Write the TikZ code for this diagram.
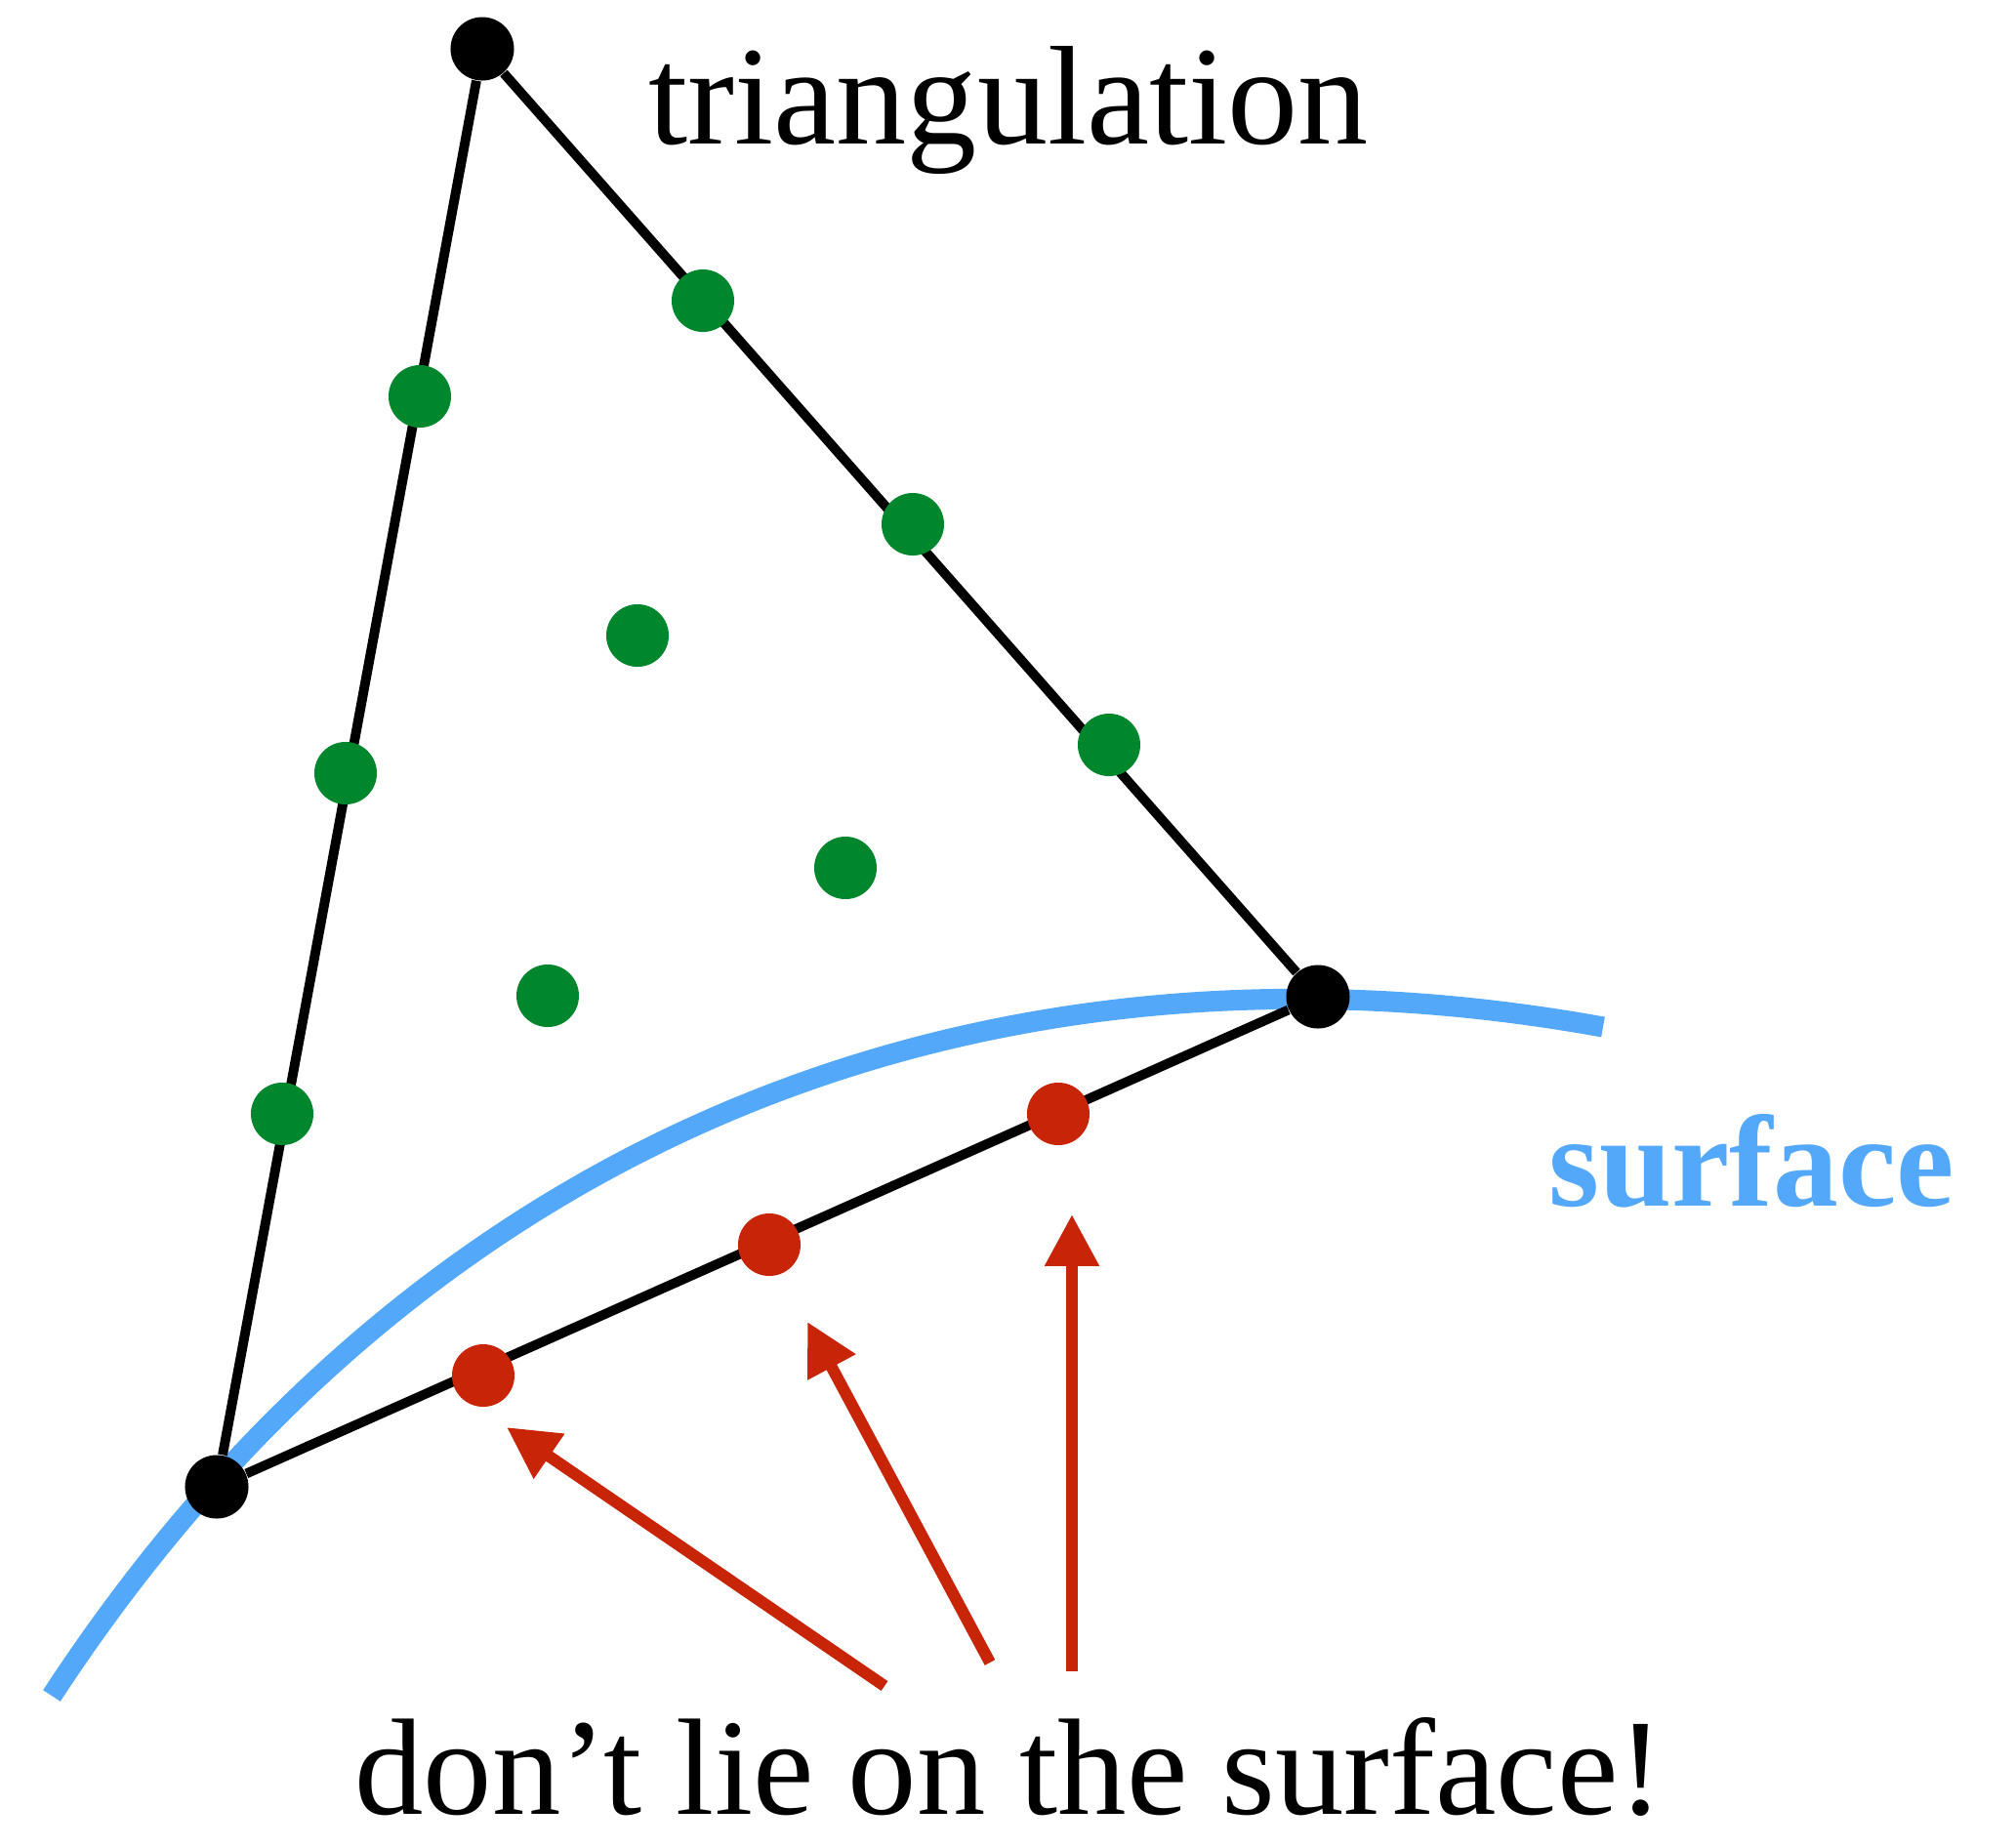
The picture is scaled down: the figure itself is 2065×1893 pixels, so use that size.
\documentclass[tikz,border=0pt]{standalone}
\usepackage{fontspec}
\setmainfont{Liberation Serif}
\usepackage{xcolor}
\usetikzlibrary{arrows.meta}
\usetikzlibrary{backgrounds}

\definecolor{dotgreen}{RGB}{0,135,45}
\definecolor{dotred}{RGB}{200,36,8}
\definecolor{surfblue}{RGB}{84,168,250}

\begin{document}
\begin{tikzpicture}[
		x=0.01cm, y=-0.01cm,
		vx/.style = {circle, fill=black, inner sep=0, minimum size=0.65cm},
		gd/.style = {circle, fill=dotgreen, inner sep=0, minimum size=0.64cm},
		rd/.style = {circle, fill=dotred, inner sep=0, minimum size=0.64cm},
		edge/.style = {line width=2.8pt},
		ar/.style = {-{Triangle[length=15pt, width=15pt]}, draw=dotred, line width=3.4pt},
		srf/.style = {draw=surfblue, line width=6pt},
		lbl/.style = {anchor=base, inner sep=0, font=\fontsize{41}{48}\selectfont}
		]
		\useasboundingbox (0,0) rectangle (2065,1893);

		%Vertices
		\node[vx]	(A)		at	(494, 50)	{};
		\node[vx]	(B)		at	(1350, 1021)	{};
		\node[vx]	(C)		at	(222, 1523)	{};

		%Green points
		\node[gd]	(ac1)	at	(430, 406)	{};
		\node[gd]	(ac2)	at	(354, 792)	{};
		\node[gd]	(ac3)	at	(289, 1141)	{};
		\node[gd]	(ab1)	at	(720, 308)	{};
		\node[gd]	(ab2)	at	(935, 537)	{};
		\node[gd]	(ab3)	at	(1136, 763)	{};
		\node[gd]	(in1)	at	(653, 651)	{};
		\node[gd]	(in2)	at	(866, 889)	{};
		\node[gd]	(in3)	at	(561, 1020)	{};

		%Red points
		\node[rd]	(cb1)	at	(495, 1409)	{};
		\node[rd]	(cb2)	at	(788, 1275)	{};
		\node[rd]	(cb3)	at	(1084, 1141)	{};

		%Labels
		\node[lbl]	(tri)	at	(1033, 147)	{triangulation};
		\node[lbl, font=\fontsize{38}{44}\selectfont\bfseries, text=surfblue]	(surf)	at	(1794, 1235)	{surface};
		\node[lbl, font=\fontsize{40}{46}\selectfont]	(note)	at	(1034, 1858)	{don’t lie on the surface!};

		%Surface and edges
		\coordinate	(s0)	at	(53, 1737);
		\coordinate	(s1)	at	(1642, 1052);
		\begin{scope}[on background layer]
			\draw[srf]	(s0) .. controls (450, 1130) and (1050, 945) .. (s1);
			\draw[edge]	(A) -- (B);
			\draw[edge]	(A) -- (C);
			\draw[edge]	(C) -- (B);
		\end{scope}

		%Arrows
		\coordinate	(t1)	at	(906, 1727);
		\coordinate	(h1)	at	(519, 1462);
		\coordinate	(t2)	at	(1014, 1703);
		\coordinate	(h2)	at	(827, 1354);
		\coordinate	(t3)	at	(1098, 1712);
		\coordinate	(h3)	at	(1098, 1244);
		\draw[ar]	(t1) -- (h1);
		\draw[ar]	(t2) -- (h2);
		\draw[ar]	(t3) -- (h3);
	\end{tikzpicture}
\end{document}
